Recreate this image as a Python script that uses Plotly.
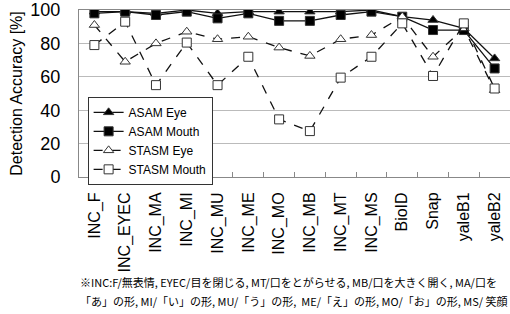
import plotly.graph_objects as go

categories = ["INC_F", "INC_EYEC", "INC_MA", "INC_MI", "INC_MU", "INC_ME", "INC_MO",
              "INC_MB", "INC_MT", "INC_MS", "BioID", "Snap", "yaleB1", "yaleB2"]
asam_eye = [99, 99, 98, 100, 98, 99, 99, 99, 99, 100, 96, 94, 89, 71]
asam_mouth = [98, 99, 97, 99, 95, 98, 93.5, 93.5, 97, 99, 96, 88, 88, 65]
stasm_eye = [91, 69, 80, 87, 82.5, 84, 77.5, 72.5, 82.5, 85, 96, 72, 89, 52]
stasm_mouth = [79, 93, 55, 80.5, 55, 72, 34.5, 27.5, 59.5, 72, 92, 60.5, 92, 53]
y_ticks = [0, 20, 40, 60, 80, 100]
note_lines = [
    "※INC:F/無表情, EYEC/目を閉じる, MT/口をとがらせる, MB/口を大きく開く, MA/口を",
    "「あ」の形, MI/「い」の形, MU/「う」の形,  ME/「え」の形, MO/「お」の形, MS/ 笑顔",
]

font = "Liberation Sans, Arial, sans-serif"
fig = go.Figure()
series = [
    ("ASAM Eye", asam_eye, "triangle-up", "black", "solid"),
    ("ASAM Mouth", asam_mouth, "square", "black", "solid"),
    ("STASM Eye", stasm_eye, "triangle-up", "white", "dash"),
    ("STASM Mouth", stasm_mouth, "square", "white", "dash"),
]
for name, vals, sym, fill, dash in series:
    fig.add_trace(go.Scatter(
        x=categories, y=vals, name=name, mode="lines+markers",
        line=dict(color="#111111", width=1.3, dash=dash),
        marker=dict(symbol=sym, size=9, color=fill, line=dict(color="#333333", width=1)),
    ))

fig.update_layout(
    width=510, height=314,
    margin=dict(l=79, r=0, t=10, b=137, autoexpand=False),
    paper_bgcolor="white", plot_bgcolor="white",
    font=dict(family=font, color="black"),
    showlegend=True,
    legend=dict(x=0.02, y=0.48, xanchor="left", yanchor="top",
                bordercolor="#333333", borderwidth=1, bgcolor="white",
                font=dict(size=12, family=font), tracegroupgap=0,
                itemwidth=30),
    xaxis=dict(type="category", tickangle=-90, tickfont=dict(size=16, family=font),
               automargin=False, ticklabelstandoff=8,
               showline=True, linecolor="#888888", linewidth=1, mirror=True,
               ticks="inside", ticklen=5, tickcolor="#888888", tickson="boundaries",
               showgrid=False, range=[-0.5, 13.5]),
    yaxis=dict(range=[0, 100], tickvals=y_ticks, tickfont=dict(size=18, family=font),
               automargin=False, ticklabelstandoff=14,
               title=dict(text="Detection Accuracy [%]", font=dict(size=16, family=font), standoff=3),
               showgrid=True, gridcolor="#bbbbbb", gridwidth=1,
               showline=True, linecolor="#888888", mirror=True, ticks=""),
)
for i, line in enumerate(note_lines):
    fig.add_annotation(
        text=line, xref="paper", yref="paper", x=-0.003, y=-0.57 - i * 0.115,
        xanchor="left", yanchor="top", showarrow=False, align="left",
        font=dict(size=11, family="Noto Sans CJK JP, sans-serif", color="black"),
    )
fig.write_html("out.html", config={"displayModeBar": False},
               post_script="document.body.style.margin='0';document.body.style.overflow='hidden';")
